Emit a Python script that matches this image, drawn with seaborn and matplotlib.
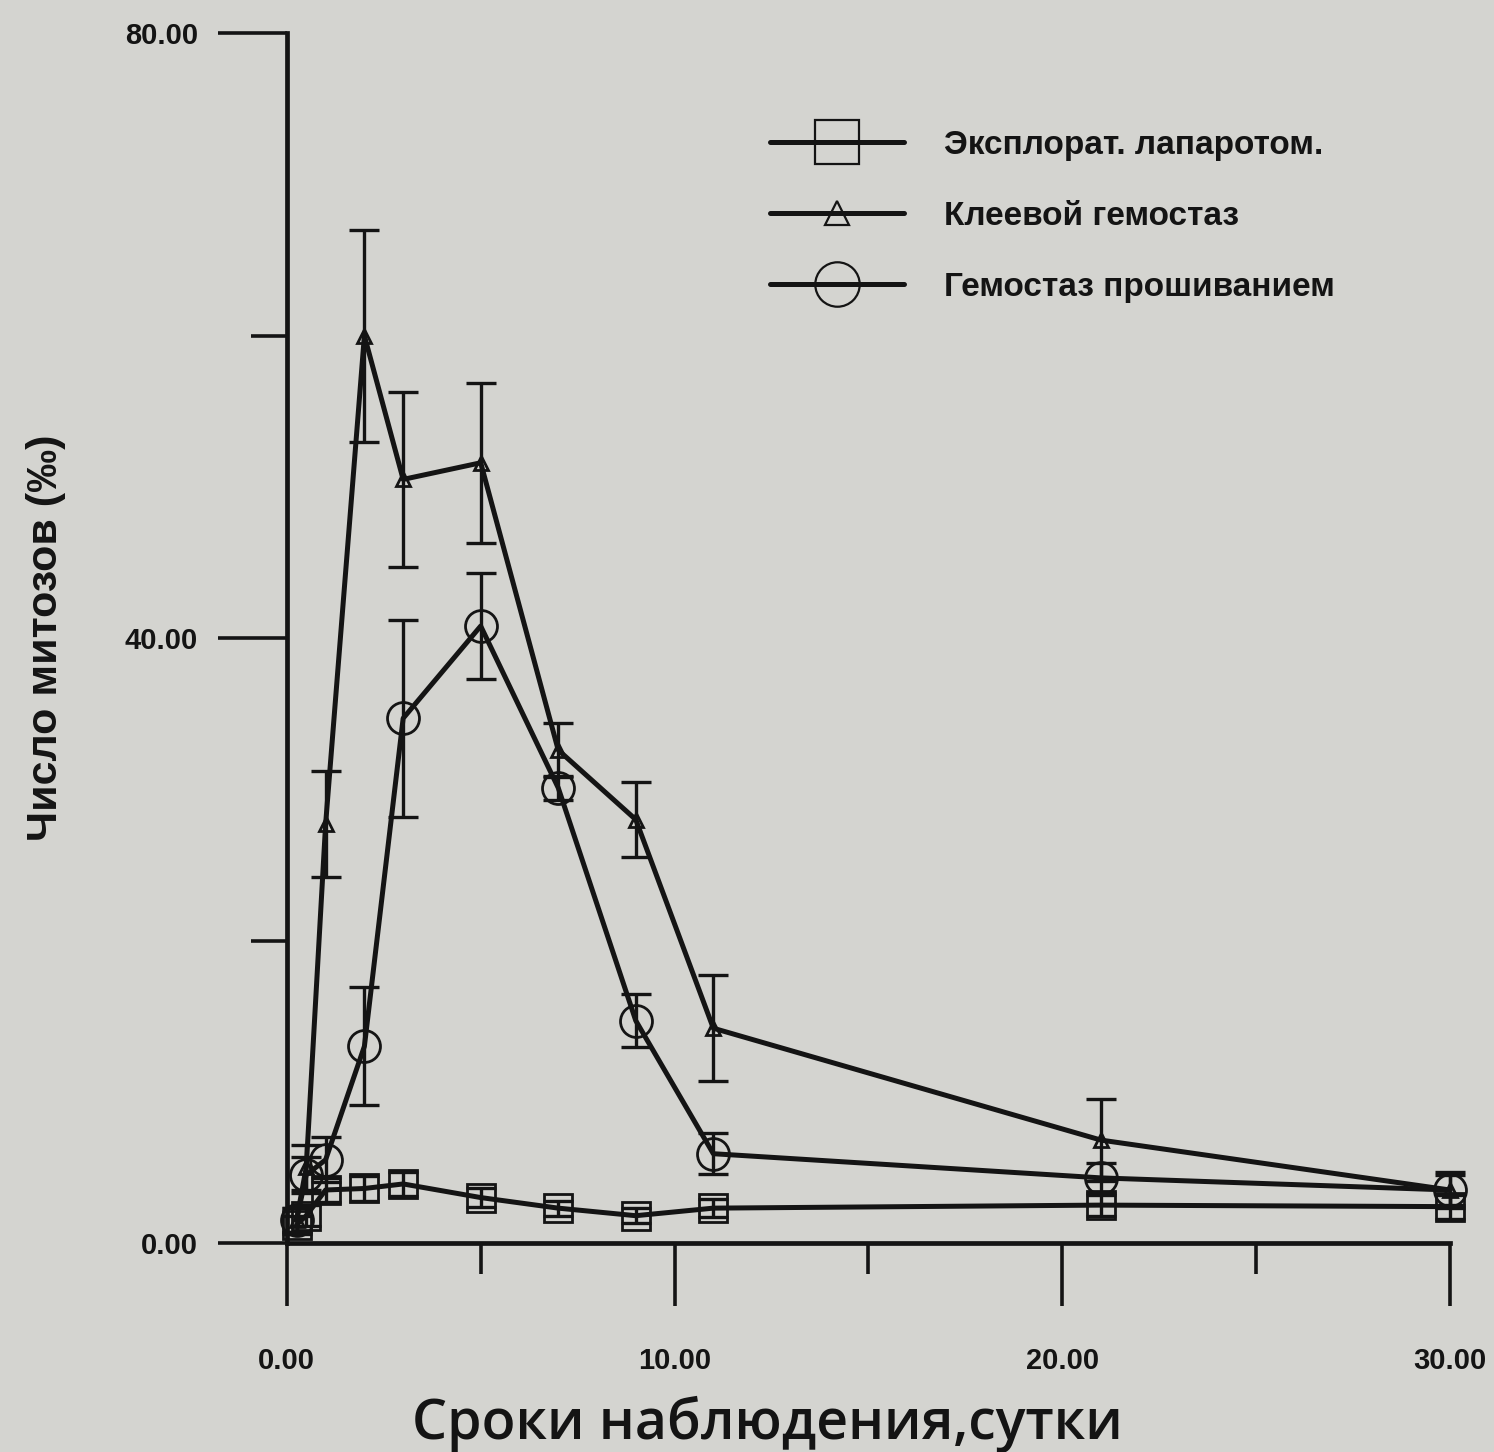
import numpy as np
import pandas as pd
import matplotlib
matplotlib.use("Agg")
import matplotlib.pyplot as plt
import seaborn as sns
from matplotlib.lines import Line2D

# ---- data ----
days = [0.25, 0.5, 1, 2, 3, 5, 7, 9, 11, 21, 30]
expl_mean = [1.2, 1.8, 3.5, 3.6, 3.9, 3.0, 2.3, 1.8, 2.3, 2.5, 2.4]
expl_err = [0.6, 0.7, 0.8, 0.8, 0.8, 0.6, 0.5, 0.5, 0.6, 0.7, 0.8]
glue_mean = [1.5, 5.0, 27.7, 60.0, 50.5, 51.6, 32.6, 28.0, 14.2, 6.8, 3.5]
glue_err = [0.8, 1.5, 3.5, 7.0, 5.8, 5.3, 1.8, 2.5, 3.5, 2.7, 1.2]
suture_mean = [1.5, 4.5, 5.5, 13.0, 34.7, 40.8, 30.1, 14.7, 5.9, 4.3, 3.5]
suture_err = [0.8, 1.2, 1.5, 3.9, 6.5, 3.5, 0.8, 1.75, 1.35, 1.0, 1.0]
series_names = ["Эксплорат. лапаротом.", "Клеевой гемостаз", "Гемостаз прошиванием"]
x_ticks = [0, 10, 20, 30]
x_minor = [5, 15, 25]
y_ticks = [0, 40, 80]
y_minor = [20, 60]
x_label = "Сроки наблюдения,сутки"
y_label = "Число митозов (‰)"

BG = "#d4d4d0"
INK = "#141414"

sns.set_theme(style="white")
plt.rcParams["font.family"] = ["Liberation Sans", "DejaVu Sans"]

fig = plt.figure(figsize=(14.94, 14.52), dpi=100, facecolor=BG)
ax = fig.add_axes([0.192, 0.144, 0.7785, 0.833])
ax.set_facecolor(BG)

means = [expl_mean, glue_mean, suture_mean]
errs = [expl_err, glue_err, suture_err]
markers = ["s", "^", "o"]
msizes = [20, 10, 23]

for name, m, e, mk, ms in zip(series_names, means, errs, markers, msizes):
    df = pd.DataFrame({"day": days, "val": m})
    ax.errorbar(days, m, yerr=e, fmt="none", ecolor=INK, elinewidth=2.4,
                capsize=11, capthick=2.4, zorder=2, clip_on=False)
    sns.lineplot(data=df, x="day", y="val", ax=ax, color=INK, linewidth=3.6,
                 marker=mk, markersize=ms, markerfacecolor="none",
                 markeredgecolor=INK, markeredgewidth=2.0, zorder=3,
                 clip_on=False, legend=False)

ax.set_xlim(0, 30)
ax.set_ylim(0, 80)
ax.set_xticks(x_ticks)
ax.set_xticks(x_minor, minor=True)
ax.set_yticks(y_ticks)
ax.set_yticks(y_minor, minor=True)
ax.set_xticklabels([f"{v:.2f}" for v in x_ticks], fontsize=21, fontweight="bold", color=INK)
ax.set_yticklabels([f"{v:.2f}" for v in y_ticks], fontsize=21, fontweight="bold", color=INK)
ax.tick_params(which="both", bottom=True, left=True, top=False, right=False)
ax.tick_params(axis="x", which="major", direction="out", length=45, width=2.6, pad=30, colors=INK)
ax.tick_params(axis="x", which="minor", direction="out", length=22, width=2.6, colors=INK)
ax.tick_params(axis="y", which="major", direction="out", length=50, width=2.6, pad=14, colors=INK)
ax.tick_params(axis="y", which="minor", direction="out", length=26, width=2.6, colors=INK)

for s in ["top", "right"]:
    ax.spines[s].set_visible(False)
for s in ["left", "bottom"]:
    ax.spines[s].set_linewidth(3.4)
    ax.spines[s].set_color(INK)

ax.set_xlabel(x_label, fontsize=40, fontweight="semibold", family=["Open Sans", "DejaVu Sans"],
              color=INK)
ax.xaxis.label.set_va("baseline")
ax.xaxis.set_label_coords(0.413, -0.162)
ax.set_ylabel(y_label, fontsize=31, fontweight="bold", family=["Liberation Sans", "DejaVu Sans"],
              color=INK)
ax.yaxis.set_label_coords(-0.19, 0.5)
ax.grid(False)

handles = [Line2D([0], [0], color=INK, lw=3.6, marker=mk,
                  markersize=(17 if mk == "^" else 32),
                  markerfacecolor="none", markeredgecolor=INK, markeredgewidth=1.6)
           for mk in markers]
leg = ax.legend(handles, series_names, loc="upper left", bbox_to_anchor=(0.39, 0.945),
                frameon=False, handlelength=4.0, handletextpad=1.2, labelspacing=1.2,
                prop={"family": "Liberation Sans", "weight": "bold", "size": 24})
for t in leg.get_texts():
    t.set_color(INK)

fig.savefig("out.png", dpi=100, facecolor=BG)
